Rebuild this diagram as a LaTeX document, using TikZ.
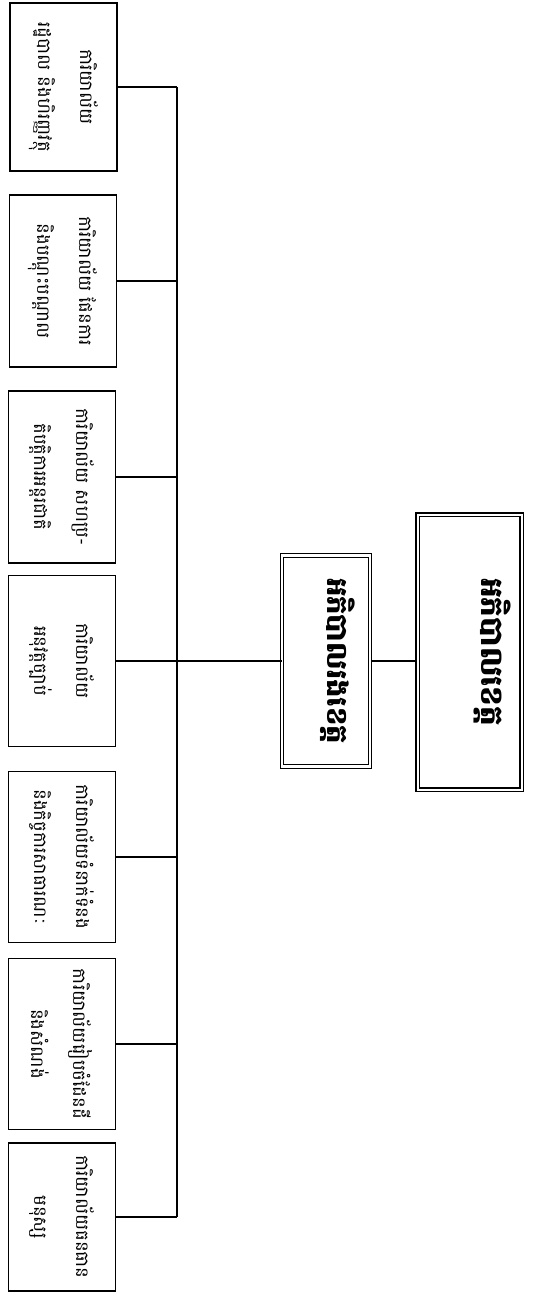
\documentclass[tikz,border=0pt]{standalone}
\usepackage{fontspec}
\newfontfamily\khmer[Script=Khmer]{Battambang}
\begin{document}
\begin{tikzpicture}[x=1pt,y=-1pt]
\useasboundingbox (0,0) rectangle (548,1300);
\tikzset{
  office/.style={draw, line width=1.1pt, rotate=-90, minimum height=107, inner sep=0pt,
    align=center, font=\khmer\fontsize{18}{42}\selectfont},
  deputybox/.style={draw, line width=1pt, double, double distance=2.2pt, rotate=-90,
    inner sep=0pt, font=\khmer\bfseries\fontsize{29}{30}\selectfont,
    text height=20pt, text depth=22pt},
  govbox/.style={draw, line width=1.6pt, double, double distance=2pt, rotate=-90,
    inner sep=0pt, font=\khmer\bfseries\fontsize{31}{34}\selectfont,
    text height=18pt, text depth=42pt},
  link/.style={line width=1.1pt}
}
\node[office, minimum width=168] (b1) at (63.5,87) {ការិយាល័យ\\រដ្ឋបាល និងហិរញ្ញវត្ថុ};
\node[office, minimum width=172] (b2) at (63,281) {ការិយាល័យ ផែនការ\\និងបណ្ដុះបណ្ដាល};
\node[office, minimum width=172] (b3) at (62,477) {ការិយាល័យ សហប្រ-\\តិបត្តិការអន្តរជាតិ};
\node[office, minimum width=171] (b4) at (62,661) {ការិយាល័យ\\អនុវត្តច្បាប់};
\node[office, minimum width=171] (b5) at (62,857) {ការិយាល័យទំនាក់ទំនង\\និងកិច្ចការសាធារណៈ};
\node[office, minimum width=171] (b6) at (62,1044) {ការិយាល័យរៀបចំដែនដី\\និងសំណង់};
\node[office, minimum width=148] (b7) at (62,1217) {ការិយាល័យធនធាន\\មនុស្ស};
\node[deputybox, minimum width=211, minimum height=88] (d) at (326,661) {អភិបាលរងខេត្ត};
\node[govbox, minimum width=275, minimum height=104] (g) at (469.5,652) {អភិបាលខេត្ត};
\coordinate (bus) at (177,0);
\foreach \b in {b1,b2,b3,b4,b5,b6,b7}{
  \draw[link] (\b.north) -- (\b.north -| bus);
}
\draw[link] (b1.north -| bus) -- (b7.north -| bus);
\draw[link] (d.south) -- (d.south -| bus);
\draw[link] (d.north) -- (d.north -| g.south);
\end{tikzpicture}
\end{document}
